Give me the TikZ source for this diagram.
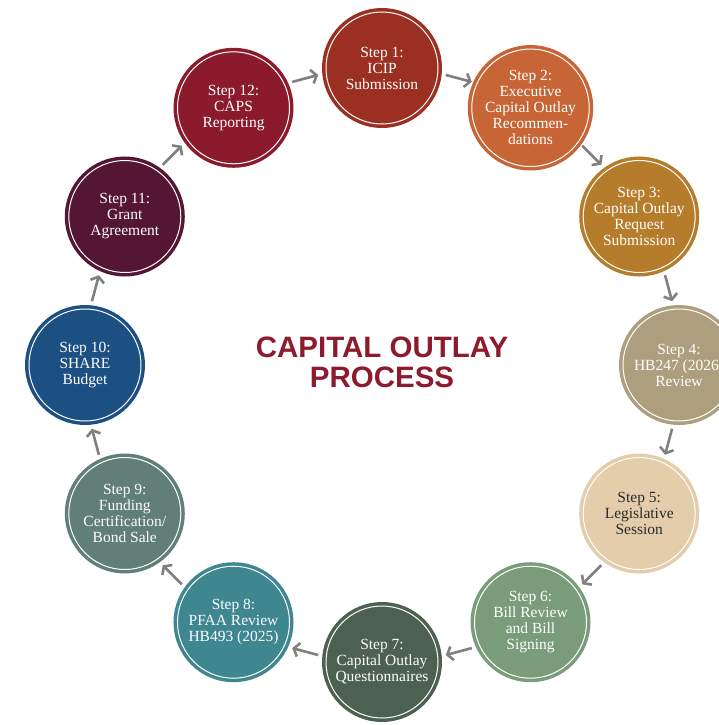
\documentclass[tikz,border=0pt]{standalone}
\usepackage{fontspec}
\setmainfont{Liberation Serif}
\newfontfamily\titlefont{Liberation Sans}
\usetikzlibrary{calc,arrows.meta}
\definecolor{cA}{HTML}{9A2F22}
\definecolor{cB}{HTML}{C76536}
\definecolor{cC}{HTML}{B57C2B}
\definecolor{cD}{HTML}{AD9E7E}
\definecolor{cE}{HTML}{E3CDAA}
\definecolor{cF}{HTML}{7A9C7B}
\definecolor{cG}{HTML}{4D6150}
\definecolor{cH}{HTML}{3E8690}
\definecolor{cI}{HTML}{617E79}
\definecolor{cJ}{HTML}{1C4F82}
\definecolor{cK}{HTML}{551634}
\definecolor{cL}{HTML}{8A1A2C}
\definecolor{titlered}{HTML}{8E1B2D}
\definecolor{arrowgray}{HTML}{808080}
\definecolor{darktext}{HTML}{2A2A2A}
\tikzset{
  stepnode/.style={circle, minimum size=112pt, inner sep=0pt, line width=3.5pt,
    double=white, double distance=1pt, align=center, text=white,
    font=\fontsize{15.5}{16}\selectfont, fill=#1, draw=#1},
  flowarrow/.style={draw=arrowgray, line width=2.6pt,
    -{Straight Barb[length=5pt,width=14pt]}},
}
\begin{document}
\begin{tikzpicture}[x=1pt,y=1pt]
\clip (0,0) rectangle (719,-725);
\fill[white] (0,0) rectangle (719,-725);
\coordinate (O) at (382,-365);
\def\R{297}
\node[stepnode=cA] (s1) at ($(O)+(90:\R)$) {Step 1:\\ICIP\\Submission};
\node[stepnode=cB] (s2) at ($(O)+(60:\R)$) {Step 2:\\Executive\\Capital Outlay\\Recommen-\\dations};
\node[stepnode=cC] (s3) at ($(O)+(30:\R)$) {Step 3:\\Capital Outlay\\Request\\Submission};
\node[stepnode=cD] (s4) at ($(O)+(0:\R)$) {Step 4:\\HB247 (2026)\\Review};
\node[stepnode=cE, text=darktext] (s5) at ($(O)+(-30:\R)$) {Step 5:\\Legislative\\Session};
\node[stepnode=cF] (s6) at ($(O)+(-60:\R)$) {Step 6:\\Bill Review\\and Bill\\Signing};
\node[stepnode=cG] (s7) at ($(O)+(-90:\R)$) {Step 7:\\Capital Outlay\\Questionnaires};
\node[stepnode=cH] (s8) at ($(O)+(-120:\R)$) {Step 8:\\PFAA Review\\HB493 (2025)};
\node[stepnode=cI] (s9) at ($(O)+(-150:\R)$) {Step 9:\\Funding\\Certification/\\Bond Sale};
\node[stepnode=cJ] (s10) at ($(O)+(180:\R)$) {Step 10:\\SHARE\\Budget};
\node[stepnode=cK] (s11) at ($(O)+(150:\R)$) {Step 11:\\Grant\\Agreement};
\node[stepnode=cL] (s12) at ($(O)+(120:\R)$) {Step 12:\\CAPS\\Reporting};
\node[text=titlered, align=center, font=\titlefont\bfseries\fontsize{29.5}{30}\selectfont] (title) at (382,-362) {CAPITAL OUTLAY\\PROCESS};
\foreach \i in {1,...,12}{
  \pgfmathsetmacro{\ang}{75-30*(\i-1)}
  \coordinate (a\i s) at ($(O)+(\ang+2.6:\R)$);
  \coordinate (a\i e) at ($(O)+(\ang-2.6:\R)$);
  \draw[flowarrow] (a\i s) -- (a\i e);
}
\end{tikzpicture}
\end{document}
